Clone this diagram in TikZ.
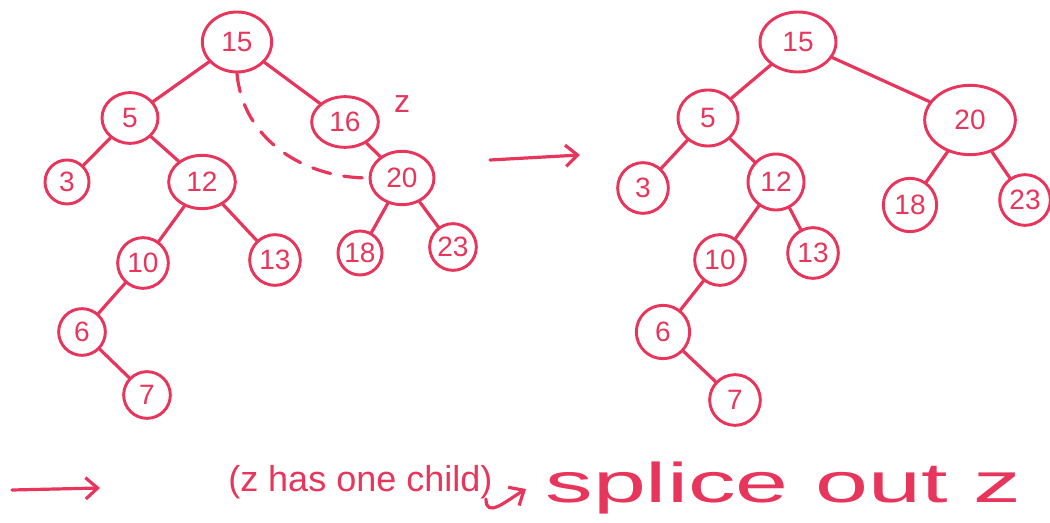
\documentclass[tikz,border=0pt]{standalone}
\usepackage{fontspec}
\setmainfont{Liberation Sans}
\usetikzlibrary{arrows.meta,shapes.geometric}
\definecolor{marker}{HTML}{E8355B}
\tikzset{keynode/.style={draw=marker,ellipse,line width=2.2pt,inner sep=0pt,text=marker,font=\fontsize{21}{24}\selectfont},
  link/.style={draw=marker,line width=2.4pt,line cap=round},
  barb/.style={-{Straight Barb[length=9pt,width=16pt,line width=2.4pt]}},
  scrawl/.style={text=marker,inner sep=0pt}}

\begin{document}
\begin{tikzpicture}[x=0.75pt,y=-0.75pt]
\useasboundingbox (0,0) rectangle (1050,523);
% tree before the splice
\foreach \n/\x/\y/\w/\h/\t in {l15/237/42/52/45/15,l5/130/118/42/38/5,l16/345/122/50/38/16,l3/67/182/33/33/3,
  l12/202/182/50/40/12,l20/402/178/48/40/20,l10/143/263/38/38/10,l13/275/260/38/38/13,
  l18/360/253/33/33/18,l23/453/247/35/35/23,l6/82/332/35/35/6,l7/147/395/35/35/7}{\node[keynode,minimum width=\w pt,minimum height=\h pt] (\n) at (\x,\y) {\t};}
\draw[link] (l15)--(l5) (l15)--(l16) (l5)--(l3) (l5)--(l12) (l12)--(l10) (l12)--(l13) (l10)--(l6) (l6)--(l7) (l16)--(l20) (l20)--(l18) (l20)--(l23);
\node[scrawl,font=\fontsize{24}{26}\selectfont] (zmark) at (402,104) {z};
\draw[link,dash pattern=on 14pt off 10pt] (l15.south) to[out=-85,in=180] (l20.west);
% tree after the splice
\foreach \n/\x/\y/\w/\h/\t in {r15/798/42/57/45/15,r5/708/118/45/42/5,r20/970/120/68/52/20,r3/643/188/38/38/3,
  r12/776/182/42/42/12,r18/910/205/40/40/18,r23/1025/200/38/38/23,r10/720/260/38/38/10,
  r13/813/253/38/38/13,r6/663/332/40/40/6,r7/735/400/38/38/7}{\node[keynode,minimum width=\w pt,minimum height=\h pt] (\n) at (\x,\y) {\t};}
\draw[link] (r15)--(r5) (r15)--(r20) (r5)--(r3) (r5)--(r12) (r12)--(r10) (r12)--(r13) (r10)--(r6) (r6)--(r7) (r20)--(r18) (r20)--(r23);
% arrows and notes
\coordinate (gofrom) at (490,160); \coordinate (goto) at (580,155);
\draw[link,barb] (gofrom)--(goto);
\coordinate (startfrom) at (12,490); \coordinate (startto) at (100,488);
\draw[link,barb] (startfrom)--(startto);
\node[scrawl,anchor=west,font=\fontsize{27}{30}\selectfont] (note) at (228,482) {(z has one child)};
\coordinate (hookend) at (526,489);
\draw[link,barb] ([xshift=-5pt]note.south east) .. controls +(0,20) and +(-20,12) .. (hookend);
\node[scrawl,anchor=west,xscale=1.7,font=\fontsize{42}{46}\selectfont] (splice) at (545,488) {splice out z};
\end{tikzpicture}
\end{document}
